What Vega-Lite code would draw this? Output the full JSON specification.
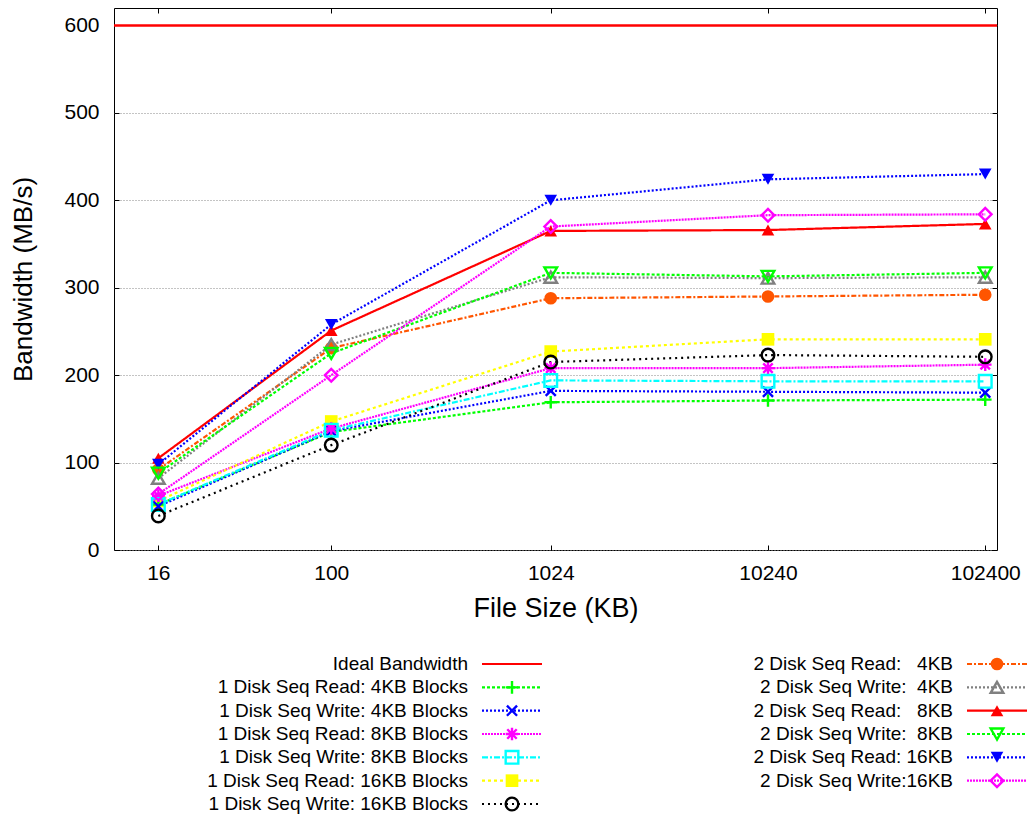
{
  "$schema": "https://vega.github.io/schema/vega-lite/v6.json",
  "padding": {"left": 10, "top": 7, "right": 0, "bottom": 0},
  "background": "white",
  "config": {
    "font": "Liberation Sans",
    "view": {"stroke": null},
    "axis": {"labelColor": "#000", "titleColor": "#000", "tickColor": "#000", "titleFontWeight": "normal", "labelFontSize": 21, "titleFontSize": 26, "domain": false}
  },
  "spacing": 33,
  "datasets": {
    "ideal": [{"series": "Ideal Bandwidth", "bw": 600}],
    "points": [
      {"series": "1 Disk Seq Read: 4KB Blocks", "size": 16, "bw": 52},
      {"series": "1 Disk Seq Read: 4KB Blocks", "size": 100, "bw": 135},
      {"series": "1 Disk Seq Read: 4KB Blocks", "size": 1024, "bw": 169},
      {"series": "1 Disk Seq Read: 4KB Blocks", "size": 10240, "bw": 171},
      {"series": "1 Disk Seq Read: 4KB Blocks", "size": 102400, "bw": 172},
      {"series": "1 Disk Seq Write: 4KB Blocks", "size": 16, "bw": 50},
      {"series": "1 Disk Seq Write: 4KB Blocks", "size": 100, "bw": 136},
      {"series": "1 Disk Seq Write: 4KB Blocks", "size": 1024, "bw": 182},
      {"series": "1 Disk Seq Write: 4KB Blocks", "size": 10240, "bw": 181},
      {"series": "1 Disk Seq Write: 4KB Blocks", "size": 102400, "bw": 180},
      {"series": "1 Disk Seq Read: 8KB Blocks", "size": 16, "bw": 62},
      {"series": "1 Disk Seq Read: 8KB Blocks", "size": 100, "bw": 139},
      {"series": "1 Disk Seq Read: 8KB Blocks", "size": 1024, "bw": 208},
      {"series": "1 Disk Seq Read: 8KB Blocks", "size": 10240, "bw": 208},
      {"series": "1 Disk Seq Read: 8KB Blocks", "size": 102400, "bw": 212},
      {"series": "1 Disk Seq Write: 8KB Blocks", "size": 16, "bw": 52},
      {"series": "1 Disk Seq Write: 8KB Blocks", "size": 100, "bw": 137},
      {"series": "1 Disk Seq Write: 8KB Blocks", "size": 1024, "bw": 194},
      {"series": "1 Disk Seq Write: 8KB Blocks", "size": 10240, "bw": 193},
      {"series": "1 Disk Seq Write: 8KB Blocks", "size": 102400, "bw": 193},
      {"series": "1 Disk Seq Read: 16KB Blocks", "size": 16, "bw": 56},
      {"series": "1 Disk Seq Read: 16KB Blocks", "size": 100, "bw": 147},
      {"series": "1 Disk Seq Read: 16KB Blocks", "size": 1024, "bw": 227},
      {"series": "1 Disk Seq Read: 16KB Blocks", "size": 10240, "bw": 241},
      {"series": "1 Disk Seq Read: 16KB Blocks", "size": 102400, "bw": 241},
      {"series": "1 Disk Seq Write: 16KB Blocks", "size": 16, "bw": 39},
      {"series": "1 Disk Seq Write: 16KB Blocks", "size": 100, "bw": 120},
      {"series": "1 Disk Seq Write: 16KB Blocks", "size": 1024, "bw": 215},
      {"series": "1 Disk Seq Write: 16KB Blocks", "size": 10240, "bw": 223},
      {"series": "1 Disk Seq Write: 16KB Blocks", "size": 102400, "bw": 221},
      {"series": "2 Disk Seq Read: 4KB", "size": 16, "bw": 92},
      {"series": "2 Disk Seq Read: 4KB", "size": 100, "bw": 231},
      {"series": "2 Disk Seq Read: 4KB", "size": 1024, "bw": 288},
      {"series": "2 Disk Seq Read: 4KB", "size": 10240, "bw": 290},
      {"series": "2 Disk Seq Read: 4KB", "size": 102400, "bw": 292},
      {"series": "2 Disk Seq Write: 4KB", "size": 16, "bw": 82},
      {"series": "2 Disk Seq Write: 4KB", "size": 100, "bw": 235},
      {"series": "2 Disk Seq Write: 4KB", "size": 1024, "bw": 312},
      {"series": "2 Disk Seq Write: 4KB", "size": 10240, "bw": 311},
      {"series": "2 Disk Seq Write: 4KB", "size": 102400, "bw": 312},
      {"series": "2 Disk Seq Read: 8KB", "size": 16, "bw": 105},
      {"series": "2 Disk Seq Read: 8KB", "size": 100, "bw": 251},
      {"series": "2 Disk Seq Read: 8KB", "size": 1024, "bw": 365},
      {"series": "2 Disk Seq Read: 8KB", "size": 10240, "bw": 366},
      {"series": "2 Disk Seq Read: 8KB", "size": 102400, "bw": 373},
      {"series": "2 Disk Seq Write: 8KB", "size": 16, "bw": 88},
      {"series": "2 Disk Seq Write: 8KB", "size": 100, "bw": 225},
      {"series": "2 Disk Seq Write: 8KB", "size": 1024, "bw": 317},
      {"series": "2 Disk Seq Write: 8KB", "size": 10240, "bw": 313},
      {"series": "2 Disk Seq Write: 8KB", "size": 102400, "bw": 317},
      {"series": "2 Disk Seq Read: 16KB", "size": 16, "bw": 98},
      {"series": "2 Disk Seq Read: 16KB", "size": 100, "bw": 258},
      {"series": "2 Disk Seq Read: 16KB", "size": 1024, "bw": 400},
      {"series": "2 Disk Seq Read: 16KB", "size": 10240, "bw": 424},
      {"series": "2 Disk Seq Read: 16KB", "size": 102400, "bw": 430},
      {"series": "2 Disk Seq Write: 16KB", "size": 16, "bw": 64},
      {"series": "2 Disk Seq Write: 16KB", "size": 100, "bw": 200},
      {"series": "2 Disk Seq Write: 16KB", "size": 1024, "bw": 370},
      {"series": "2 Disk Seq Write: 16KB", "size": 10240, "bw": 383},
      {"series": "2 Disk Seq Write: 16KB", "size": 102400, "bw": 384}
    ],
    "legend": [
      {"label": "Ideal Bandwidth", "series": "Ideal Bandwidth", "col": 0, "row": 0},
      {"label": "1 Disk Seq Read: 4KB Blocks", "series": "1 Disk Seq Read: 4KB Blocks", "col": 0, "row": 1},
      {"label": "1 Disk Seq Write: 4KB Blocks", "series": "1 Disk Seq Write: 4KB Blocks", "col": 0, "row": 2},
      {"label": "1 Disk Seq Read: 8KB Blocks", "series": "1 Disk Seq Read: 8KB Blocks", "col": 0, "row": 3},
      {"label": "1 Disk Seq Write: 8KB Blocks", "series": "1 Disk Seq Write: 8KB Blocks", "col": 0, "row": 4},
      {"label": "1 Disk Seq Read: 16KB Blocks", "series": "1 Disk Seq Read: 16KB Blocks", "col": 0, "row": 5},
      {"label": "1 Disk Seq Write: 16KB Blocks", "series": "1 Disk Seq Write: 16KB Blocks", "col": 0, "row": 6},
      {"label": "2 Disk Seq Read:\u00a0\u00a0 4KB", "series": "2 Disk Seq Read: 4KB", "col": 1, "row": 0},
      {"label": "2 Disk Seq Write:\u00a0 4KB", "series": "2 Disk Seq Write: 4KB", "col": 1, "row": 1},
      {"label": "2 Disk Seq Read:\u00a0\u00a0 8KB", "series": "2 Disk Seq Read: 8KB", "col": 1, "row": 2},
      {"label": "2 Disk Seq Write:\u00a0 8KB", "series": "2 Disk Seq Write: 8KB", "col": 1, "row": 3},
      {"label": "2 Disk Seq Read: 16KB", "series": "2 Disk Seq Read: 16KB", "col": 1, "row": 4},
      {"label": "2 Disk Seq Write:16KB", "series": "2 Disk Seq Write: 16KB", "col": 1, "row": 5}
    ]
  },
  "vconcat": [
    {
      "width": 883,
      "height": 542,
      "view": {"stroke": "#000", "strokeWidth": 1},
      "resolve": {"axis": {"x": "independent", "y": "independent"}},
      "layer": [
        {
          "data": {"name": "ideal"},
          "mark": {"type": "rule", "color": "#ff0000", "strokeWidth": 2.5},
          "encoding": {
            "y": {"field": "bw", "type": "quantitative", "scale": {"domain": [0, 620], "nice": false, "zero": false},
              "axis": {"orient": "left", "values": [0, 100, 200, 300, 400, 500, 600], "title": "Bandwidth (MB/s)", "titlePadding": 27, "labelPadding": 20, "tickSize": -5, "grid": true, "gridColor": "#888", "gridDash": [1, 2], "gridWidth": 1}}
          }
        },
        {
          "data": {"name": "points"},
          "mark": {"type": "line", "clip": true},
          "encoding": {
            "x": {"field": "size", "type": "quantitative", "scale": {"type": "log", "domain": [10, 116000], "nice": false},
              "axis": {"orient": "bottom", "values": [16, 100, 1024, 10240, 102400], "format": "d", "title": "File Size (KB)", "titleFontSize": 27, "labelPadding": 17, "titlePadding": 12, "tickSize": -5, "grid": false}},
            "y": {"field": "bw", "type": "quantitative", "scale": {"domain": [0, 620], "nice": false, "zero": false}, "axis": null},
            "color": {"field": "series", "type": "nominal", "legend": null,
              "scale": {"domain": ["1 Disk Seq Read: 4KB Blocks", "1 Disk Seq Write: 4KB Blocks", "1 Disk Seq Read: 8KB Blocks", "1 Disk Seq Write: 8KB Blocks", "1 Disk Seq Read: 16KB Blocks", "1 Disk Seq Write: 16KB Blocks", "2 Disk Seq Read: 4KB", "2 Disk Seq Write: 4KB", "2 Disk Seq Read: 8KB", "2 Disk Seq Write: 8KB", "2 Disk Seq Read: 16KB", "2 Disk Seq Write: 16KB", "Ideal Bandwidth"],
                "range": ["#00ff00", "#0000ff", "#ff00ff", "#00ffff", "#ffff00", "#000000", "#ff5500", "#808080", "#ff0000", "#00ff00", "#0000ff", "#ff00ff", "#ff0000"]}},
            "strokeDash": {"field": "series", "type": "nominal", "legend": null,
              "scale": {"domain": ["1 Disk Seq Read: 4KB Blocks", "1 Disk Seq Write: 4KB Blocks", "1 Disk Seq Read: 8KB Blocks", "1 Disk Seq Write: 8KB Blocks", "1 Disk Seq Read: 16KB Blocks", "1 Disk Seq Write: 16KB Blocks", "2 Disk Seq Read: 4KB", "2 Disk Seq Write: 4KB", "2 Disk Seq Read: 8KB", "2 Disk Seq Write: 8KB", "2 Disk Seq Read: 16KB", "2 Disk Seq Write: 16KB", "Ideal Bandwidth"],
                "range": [[3, 2], [2, 2], [2, 1], [6, 2, 2, 2], [3, 3], [2, 4], [5, 2, 2, 2], [2, 2], [1, 0], [3, 2], [2, 2], [2, 1], [1, 0]]}},
            "strokeWidth": {"field": "series", "type": "nominal", "legend": null,
              "scale": {"domain": ["1 Disk Seq Read: 4KB Blocks", "1 Disk Seq Write: 4KB Blocks", "1 Disk Seq Read: 8KB Blocks", "1 Disk Seq Write: 8KB Blocks", "1 Disk Seq Read: 16KB Blocks", "1 Disk Seq Write: 16KB Blocks", "2 Disk Seq Read: 4KB", "2 Disk Seq Write: 4KB", "2 Disk Seq Read: 8KB", "2 Disk Seq Write: 8KB", "2 Disk Seq Read: 16KB", "2 Disk Seq Write: 16KB", "Ideal Bandwidth"],
                "range": [2.2, 2.2, 1.5, 2.2, 2.2, 2.2, 2.2, 2.2, 2.5, 2.2, 2.2, 2.2, 2.5]}}
          }
        },
        {
          "data": {"name": "points"},
          "transform": [{"filter": {"field": "series", "oneOf": ["1 Disk Seq Read: 16KB Blocks", "2 Disk Seq Read: 4KB", "2 Disk Seq Read: 8KB", "2 Disk Seq Read: 16KB"]}}],
          "mark": {"type": "point", "filled": true, "size": 160, "opacity": 1},
          "encoding": {
            "x": {"field": "size", "type": "quantitative", "scale": {"type": "log", "domain": [10, 116000], "nice": false}, "axis": null},
            "y": {"field": "bw", "type": "quantitative", "scale": {"domain": [0, 620], "nice": false, "zero": false}, "axis": null},
            "color": {"field": "series", "type": "nominal", "legend": null},
            "shape": {"field": "series", "type": "nominal", "legend": null,
              "scale": {"domain": ["1 Disk Seq Read: 4KB Blocks", "1 Disk Seq Write: 4KB Blocks", "1 Disk Seq Read: 8KB Blocks", "1 Disk Seq Write: 8KB Blocks", "1 Disk Seq Read: 16KB Blocks", "1 Disk Seq Write: 16KB Blocks", "2 Disk Seq Read: 4KB", "2 Disk Seq Write: 4KB", "2 Disk Seq Read: 8KB", "2 Disk Seq Write: 8KB", "2 Disk Seq Read: 16KB", "2 Disk Seq Write: 16KB", "Ideal Bandwidth"],
                "range": ["M-1,0L1,0M0,-1L0,1", "M-0.8,-0.8L0.8,0.8M-0.8,0.8L0.8,-0.8", "M-1,0L1,0M0,-1L0,1M-0.75,-0.75L0.75,0.75M-0.75,0.75L0.75,-0.75", "square", "square", "circle", "circle", "triangle-up", "triangle-up", "triangle-down", "triangle-down", "diamond", "M-1,0L1,0"]}}
          }
        },
        {
          "data": {"name": "points"},
          "transform": [{"filter": {"not": {"field": "series", "oneOf": ["1 Disk Seq Read: 16KB Blocks", "2 Disk Seq Read: 4KB", "2 Disk Seq Read: 8KB", "2 Disk Seq Read: 16KB"]}}}],
          "mark": {"type": "point", "filled": false, "size": 160, "strokeWidth": 2.4, "opacity": 1},
          "encoding": {
            "x": {"field": "size", "type": "quantitative", "scale": {"type": "log", "domain": [10, 116000], "nice": false},
              "axis": {"orient": "top", "values": [16, 100, 1024, 10240, 102400], "labels": false, "title": null, "tickSize": -5, "grid": false}},
            "y": {"field": "bw", "type": "quantitative", "scale": {"domain": [0, 620], "nice": false, "zero": false},
              "axis": {"orient": "right", "values": [0, 100, 200, 300, 400, 500, 600], "labels": false, "title": null, "tickSize": -5, "grid": false}},
            "color": {"field": "series", "type": "nominal", "legend": null},
            "shape": {"field": "series", "type": "nominal", "legend": null}
          }
        }
      ]
    },
    {
      "width": 883,
      "height": 140,
      "data": {"name": "legend"},
      "encoding": {
        "x": {"field": "col", "type": "quantitative", "scale": {"domain": [0, 1], "range": [398, 883]}, "axis": null},
        "y": {"field": "row", "type": "quantitative", "scale": {"domain": [0, 6], "range": [0, 140]}, "axis": null}
      },
      "layer": [
        {
          "mark": {"type": "text", "align": "right", "baseline": "middle", "dx": -44, "fontSize": 19, "color": "#000"},
          "encoding": {"text": {"field": "label"}}
        },
        {
          "mark": {"type": "rule", "xOffset": -30, "x2Offset": 30},
          "encoding": {
            "x2": {"field": "col"},
            "color": {"field": "series", "type": "nominal", "legend": null,
              "scale": {"domain": ["1 Disk Seq Read: 4KB Blocks", "1 Disk Seq Write: 4KB Blocks", "1 Disk Seq Read: 8KB Blocks", "1 Disk Seq Write: 8KB Blocks", "1 Disk Seq Read: 16KB Blocks", "1 Disk Seq Write: 16KB Blocks", "2 Disk Seq Read: 4KB", "2 Disk Seq Write: 4KB", "2 Disk Seq Read: 8KB", "2 Disk Seq Write: 8KB", "2 Disk Seq Read: 16KB", "2 Disk Seq Write: 16KB", "Ideal Bandwidth"],
                "range": ["#00ff00", "#0000ff", "#ff00ff", "#00ffff", "#ffff00", "#000000", "#ff5500", "#808080", "#ff0000", "#00ff00", "#0000ff", "#ff00ff", "#ff0000"]}},
            "strokeDash": {"field": "series", "type": "nominal", "legend": null,
              "scale": {"domain": ["1 Disk Seq Read: 4KB Blocks", "1 Disk Seq Write: 4KB Blocks", "1 Disk Seq Read: 8KB Blocks", "1 Disk Seq Write: 8KB Blocks", "1 Disk Seq Read: 16KB Blocks", "1 Disk Seq Write: 16KB Blocks", "2 Disk Seq Read: 4KB", "2 Disk Seq Write: 4KB", "2 Disk Seq Read: 8KB", "2 Disk Seq Write: 8KB", "2 Disk Seq Read: 16KB", "2 Disk Seq Write: 16KB", "Ideal Bandwidth"],
                "range": [[3, 2], [2, 2], [2, 1], [6, 2, 2, 2], [3, 3], [2, 4], [5, 2, 2, 2], [2, 2], [1, 0], [3, 2], [2, 2], [2, 1], [1, 0]]}},
            "strokeWidth": {"field": "series", "type": "nominal", "legend": null,
              "scale": {"domain": ["1 Disk Seq Read: 4KB Blocks", "1 Disk Seq Write: 4KB Blocks", "1 Disk Seq Read: 8KB Blocks", "1 Disk Seq Write: 8KB Blocks", "1 Disk Seq Read: 16KB Blocks", "1 Disk Seq Write: 16KB Blocks", "2 Disk Seq Read: 4KB", "2 Disk Seq Write: 4KB", "2 Disk Seq Read: 8KB", "2 Disk Seq Write: 8KB", "2 Disk Seq Read: 16KB", "2 Disk Seq Write: 16KB", "Ideal Bandwidth"],
                "range": [2.2, 2.2, 1.5, 2.2, 2.2, 2.2, 2.2, 2.2, 2.5, 2.2, 2.2, 2.2, 2.5]}}
          }
        },
        {
          "transform": [{"filter": {"field": "series", "oneOf": ["1 Disk Seq Read: 16KB Blocks", "2 Disk Seq Read: 4KB", "2 Disk Seq Read: 8KB", "2 Disk Seq Read: 16KB"]}}],
          "mark": {"type": "point", "filled": true, "size": 160, "opacity": 1},
          "encoding": {
            "color": {"field": "series", "type": "nominal", "legend": null},
            "shape": {"field": "series", "type": "nominal", "legend": null,
              "scale": {"domain": ["1 Disk Seq Read: 4KB Blocks", "1 Disk Seq Write: 4KB Blocks", "1 Disk Seq Read: 8KB Blocks", "1 Disk Seq Write: 8KB Blocks", "1 Disk Seq Read: 16KB Blocks", "1 Disk Seq Write: 16KB Blocks", "2 Disk Seq Read: 4KB", "2 Disk Seq Write: 4KB", "2 Disk Seq Read: 8KB", "2 Disk Seq Write: 8KB", "2 Disk Seq Read: 16KB", "2 Disk Seq Write: 16KB", "Ideal Bandwidth"],
                "range": ["M-1,0L1,0M0,-1L0,1", "M-0.8,-0.8L0.8,0.8M-0.8,0.8L0.8,-0.8", "M-1,0L1,0M0,-1L0,1M-0.75,-0.75L0.75,0.75M-0.75,0.75L0.75,-0.75", "square", "square", "circle", "circle", "triangle-up", "triangle-up", "triangle-down", "triangle-down", "diamond", "M-1,0L1,0"]}}
          }
        },
        {
          "transform": [{"filter": {"not": {"field": "series", "oneOf": ["1 Disk Seq Read: 16KB Blocks", "2 Disk Seq Read: 4KB", "2 Disk Seq Read: 8KB", "2 Disk Seq Read: 16KB", "Ideal Bandwidth"]}}}],
          "mark": {"type": "point", "filled": false, "size": 160, "strokeWidth": 2.4, "opacity": 1},
          "encoding": {
            "color": {"field": "series", "type": "nominal", "legend": null},
            "shape": {"field": "series", "type": "nominal", "legend": null}
          }
        }
      ]
    }
  ]
}
